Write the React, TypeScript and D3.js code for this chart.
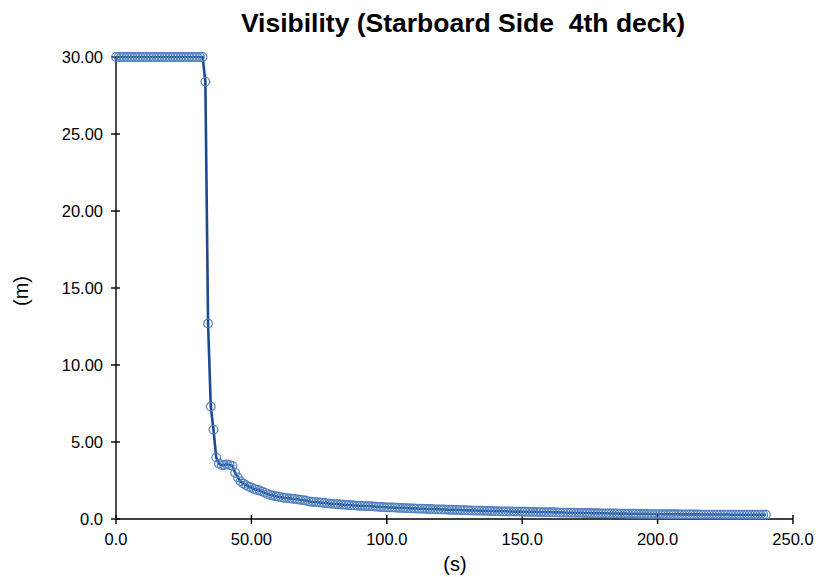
import React from "react";
import * as d3 from "d3";

const TITLE = "Visibility (Starboard Side  4th deck)";
const X_LABEL = "(s)";
const Y_LABEL = "(m)";
const TIME_STEP = 1; // seconds between samples
const VISIBILITY: number[] = [
  30, 30, 30, 30, 30, 30, 30, 30, 30, 30,
  30, 30, 30, 30, 30, 30, 30, 30, 30, 30,
  30, 30, 30, 30, 30, 30, 30, 30, 30, 30,
  30, 30, 30, 28.4, 12.7, 7.3, 5.8, 4.0, 3.6, 3.5,
  3.5, 3.55, 3.5, 3.45, 3.0, 2.7, 2.45, 2.3, 2.2, 2.1,
  2.05, 1.95, 1.9, 1.85, 1.78, 1.7, 1.62, 1.56, 1.52, 1.48,
  1.44, 1.42, 1.38, 1.36, 1.34, 1.32, 1.3, 1.28, 1.25, 1.23,
  1.2, 1.15, 1.12, 1.1, 1.1, 1.08, 1.06, 1.04, 1.02, 1.0,
  0.98, 0.97, 0.96, 0.95, 0.93, 0.92, 0.91, 0.9, 0.88, 0.87,
  0.86, 0.85, 0.84, 0.84, 0.83, 0.82, 0.8, 0.79, 0.78, 0.77,
  0.76, 0.75, 0.75, 0.74, 0.73, 0.72, 0.72, 0.71, 0.7, 0.69,
  0.69, 0.68, 0.67, 0.67, 0.66, 0.65, 0.65, 0.64, 0.63, 0.63,
  0.62, 0.62, 0.61, 0.6, 0.6, 0.59, 0.59, 0.58, 0.57, 0.57,
  0.56, 0.56, 0.55, 0.55, 0.54, 0.54, 0.53, 0.53, 0.52, 0.52,
  0.51, 0.51, 0.5, 0.5, 0.5, 0.49, 0.49, 0.48, 0.48, 0.48,
  0.47, 0.47, 0.47, 0.46, 0.46, 0.46, 0.45, 0.45, 0.45, 0.44,
  0.44, 0.44, 0.43, 0.43, 0.42, 0.42, 0.42, 0.41, 0.41, 0.41,
  0.4, 0.4, 0.4, 0.39, 0.39, 0.39, 0.38, 0.38, 0.38, 0.37,
  0.37, 0.37, 0.36, 0.36, 0.36, 0.36, 0.35, 0.35, 0.35, 0.34,
  0.34, 0.34, 0.34, 0.33, 0.33, 0.33, 0.33, 0.32, 0.32, 0.32,
  0.32, 0.32, 0.31, 0.31, 0.31, 0.31, 0.31, 0.31, 0.3, 0.3,
  0.3, 0.3, 0.3, 0.3, 0.3, 0.3, 0.29, 0.29, 0.29, 0.29,
  0.29, 0.29, 0.29, 0.29, 0.29, 0.29, 0.29, 0.28, 0.28, 0.28,
  0.28, 0.28, 0.28, 0.28, 0.28, 0.28, 0.28, 0.28, 0.28, 0.28,
  0.28,
];
const X_TICKS = [0, 50, 100, 150, 200, 250];
const X_TICK_LABELS = ["0.0", "50.00", "100.0", "150.0", "200.0", "250.0"];
const Y_TICKS = [0, 5, 10, 15, 20, 25, 30];
const Y_TICK_LABELS = ["0.0", "5.00", "10.00", "15.00", "20.00", "25.00", "30.00"];

export default function App() {
  const W = 816, H = 577;
  const x = d3.scaleLinear().domain([0, 250]).range([116, 793]);
  const y = d3.scaleLinear().domain([0, 30]).range([519, 57]);
  const data = VISIBILITY.map((v, i) => ({ t: i * TIME_STEP, v }));
  const line = d3.line<{ t: number; v: number }>().x(d => x(d.t)).y(d => y(d.v));
  const font = "Arial, 'Liberation Sans', sans-serif";
  return (
    <svg width={W} height={H} style={{ position: "absolute", left: 0, top: 0, background: "#fff" }}>
      <text x={463} y={32} textAnchor="middle" fontFamily={font} fontWeight="bold" fontSize={26.5}
        style={{ whiteSpace: "pre" }} fill="#000">{TITLE}</text>
      {/* axes */}
      <line x1={x(0)} x2={x(250)} y1={y(0)} y2={y(0)} stroke="#000" strokeWidth={1.4} />
      <line x1={x(0)} x2={x(0)} y1={y(0)} y2={y(30)} stroke="#000" strokeWidth={1.4} />
      {X_TICKS.map((t, i) => (
        <g key={"xt" + i}>
          <line x1={x(t)} x2={x(t)} y1={y(0) - 4} y2={y(0) + 5} stroke="#000" strokeWidth={1.4} />
          <text x={x(t)} y={545} textAnchor="middle" fontFamily={font} fontSize={16.5} fill="#000">{X_TICK_LABELS[i]}</text>
        </g>
      ))}
      {Y_TICKS.map((t, i) => (
        <g key={"yt" + i}>
          <line x1={x(0) - 5} x2={x(0) + 4} y1={y(t)} y2={y(t)} stroke="#000" strokeWidth={1.4} />
          <text x={103} y={y(t) + 6} textAnchor="end" fontFamily={font} fontSize={16.5} fill="#000">{Y_TICK_LABELS[i]}</text>
        </g>
      ))}
      <text x={455} y={571} textAnchor="middle" fontFamily={font} fontSize={20} fill="#000">{X_LABEL}</text>
      <text transform={`translate(28,291) rotate(-90)`} textAnchor="middle" fontFamily={font} fontSize={20} fill="#000">{Y_LABEL}</text>
      {/* series */}
      <path d={line(data) || ""} fill="none" stroke="#1d4a8f" strokeWidth={2.6} />
      {data.map((d, i) => (
        <circle key={i} cx={x(d.t)} cy={y(d.v)} r={4.3} fill="none" stroke="#4f80c0" strokeWidth={1.2} />
      ))}
    </svg>
  );
}
